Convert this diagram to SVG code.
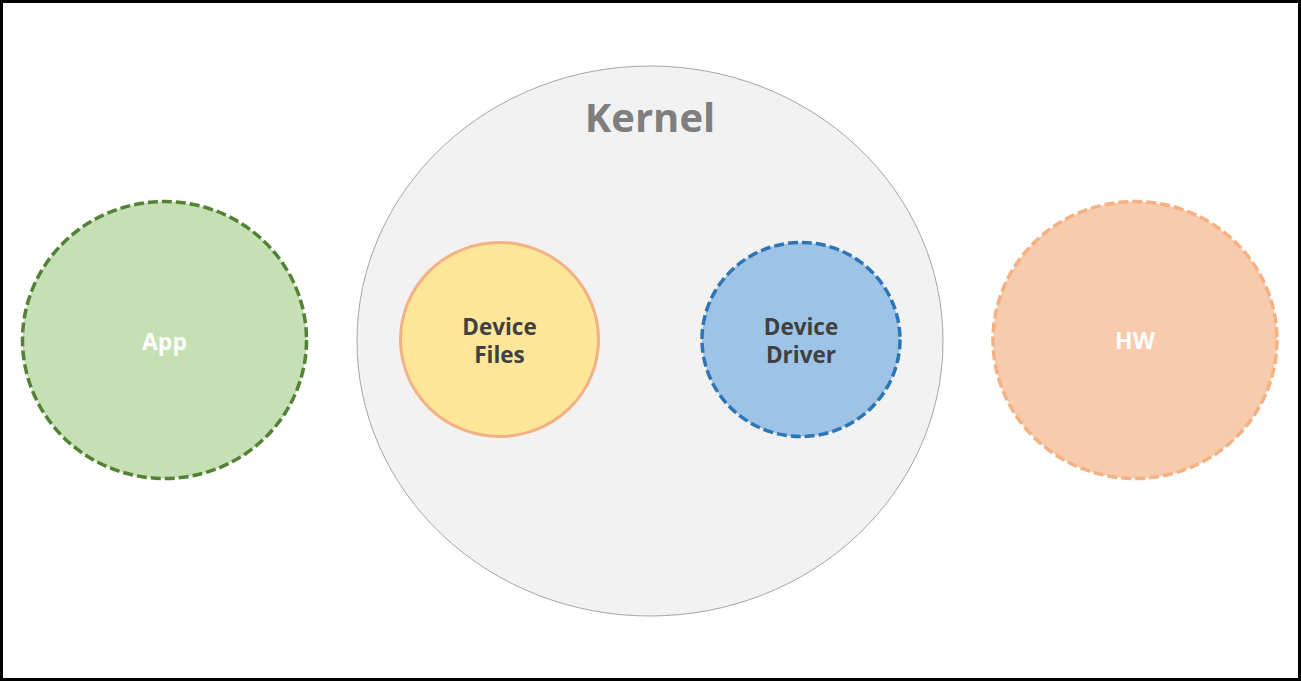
<svg xmlns="http://www.w3.org/2000/svg" width="1301" height="681" viewBox="0 0 1301 681">
<style>
.lbl{font-family:"Open Sans","Noto Sans","Liberation Sans",sans-serif;font-weight:bold;text-anchor:middle}
.w{fill:#ffffff;font-size:23px}
.d{fill:#404040;font-size:22.5px}
.dash{stroke-width:3.5;stroke-dasharray:10 4}
</style>
<rect x="1.5" y="1.5" width="1298" height="678" fill="#ffffff" stroke="#000000" stroke-width="3"/>
<g id="kernel">
<ellipse cx="650" cy="341" rx="293" ry="275" fill="#f2f2f2" stroke="#a6a6a6" stroke-width="1"/>
<text class="lbl" x="650" y="132" font-size="40" fill="#7f7f7f">Kernel</text>
</g>
<g id="app">
<ellipse cx="164.5" cy="340" rx="142" ry="138.5" fill="#c5e0b4" stroke="#548235" class="dash"/>
<text class="lbl w" x="164.5" y="350">App</text>
</g>
<g id="device-files">
<ellipse cx="499.5" cy="339.5" rx="99" ry="97" fill="#ffe699" stroke="#f4b183" stroke-width="3"/>
<text class="lbl d" x="499.5" y="335">Device</text>
<text class="lbl d" x="499.5" y="363">Files</text>
</g>
<g id="device-driver">
<ellipse cx="801" cy="339.5" rx="99" ry="97" fill="#9dc3e6" stroke="#2e75b6" class="dash"/>
<text class="lbl d" x="801" y="335">Device</text>
<text class="lbl d" x="801" y="363">Driver</text>
</g>
<g id="hw">
<ellipse cx="1135" cy="340" rx="142" ry="138.5" fill="#f8cbad" stroke="#f4b183" class="dash"/>
<text class="lbl w" x="1135" y="349">HW</text>
</g>
<g id="connectors"></g>
</svg>
